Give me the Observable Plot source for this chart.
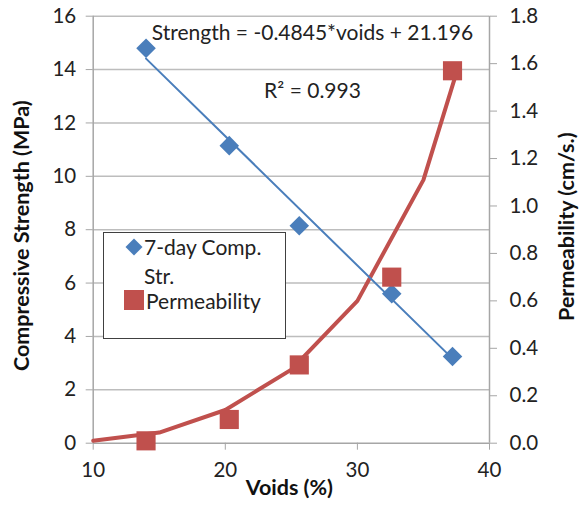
<!DOCTYPE html>
<html><head><meta charset="utf-8">
<script src="https://cdn.jsdelivr.net/npm/d3@7"></script>
<script src="https://cdn.jsdelivr.net/npm/@observablehq/plot@0.6"></script>
<style>
body{margin:0;background:#fff;font-family:Lato,"Open Sans",sans-serif;}
#wrap{position:relative;width:579px;height:515px;}
#legend{position:absolute;left:103px;top:232px;width:181px;height:105px;border:1.5px solid #404040;background:#fff;font-size:21px;color:#222;}
#legend span{position:absolute;line-height:22px;white-space:nowrap;}
#legend svg{position:absolute;}
</style></head><body>
<div id="wrap"></div>
<script>
// data
const voids = [14.0, 20.3, 25.6, 32.6, 37.2];
const strength = [14.8, 11.15, 8.15, 5.6, 3.25];
const permeability = [0.01, 0.1, 0.33, 0.70, 1.57];
const trendVoids = [14.0, 37.2];
const trendStrength = [14.41, 3.17];
const curveVoids = [10, 15, 20, 25, 30, 35, 37.6];
const curvePerm = [0.01, 0.045, 0.14, 0.31, 0.60, 1.11, 1.58];
const leftTicks = [0,2,4,6,8,10,12,14,16];
const rightTicks = [0,0.2,0.4,0.6,0.8,1.0,1.2,1.4,1.6,1.8];
const xTicks = [10,20,30,40];
const seriesNames = ["7-day Comp. Str.", "Permeability"];
const eqText = "Strength = -0.4845*voids + 21.196";
const r2Text = "R² = 0.993";

const permMax = 1.8, strMax = 16;
const toY = p => p * strMax / permMax;
const blue = "#4a7ebb", red = "#c0504d";

const pts = voids.map((v,i)=>({v, s: strength[i], p: permeability[i]}));
const trend = trendVoids.map((v,i)=>({v, s: trendStrength[i]}));
const curve = curveVoids.map((v,i)=>({v, p: curvePerm[i]}));

const chart = Plot.plot({
  width: 579, height: 515,
  marginLeft: 92.7, marginRight: 90, marginTop: 15.7, marginBottom: 72.3,
  style: {fontFamily: "Lato, 'Open Sans', sans-serif", fontSize: "20px", color: "#222", background: "#fff"},
  x: {domain: [10, 40]},
  y: {domain: [0, 16]},
  marks: [
    Plot.ruleY(leftTicks.slice(1), {stroke: "#bdbdbd", strokeWidth: 1.5}),
    Plot.ruleX([10], {stroke: "#a6a6a6", strokeWidth: 1.5}),
    Plot.ruleX([40], {stroke: "#a6a6a6", strokeWidth: 1.5}),
    Plot.ruleY([0], {stroke: "#a6a6a6", strokeWidth: 1.5}),
    Plot.axisY(leftTicks, {anchor: "left", tickSize: 7, tickPadding: 10, stroke: "#a6a6a6", fill: "#222", fontSize: 20.5, label: null}),
    Plot.axisY(rightTicks.map(toY), {anchor: "right", tickSize: 7, tickPadding: 13, stroke: "#a6a6a6", fill: "#222", fontSize: 20.5, label: null, tickFormat: v => (v*permMax/strMax).toFixed(1)}),
    Plot.axisX(xTicks, {anchor: "bottom", tickSize: 7, tickPadding: 12, stroke: "#a6a6a6", fill: "#222", fontSize: 20.5, label: null}),
    Plot.line(curve, {x: "v", y: d => toY(d.p), stroke: red, strokeWidth: 4, strokeLinejoin: "round"}),
    Plot.line(trend, {x: "v", y: "s", stroke: blue, strokeWidth: 2}),
    Plot.dot(pts, {x: "v", y: "s", symbol: "square", r: 7.8, rotate: 45, fill: blue, stroke: null}),
    Plot.dot(pts, {x: "v", y: d => toY(d.p), symbol: "square", r: 10.8, fill: red, stroke: null}),
    Plot.text([eqText], {x: 26.6, y: 15.35, text: d => d, fontSize: 21, fill: "#222"}),
    Plot.text([r2Text], {x: 26.6, y: 13.2, text: d => d, fontSize: 21, fill: "#222"}),
    Plot.text(["Compressive Strength (MPa)"], {frameAnchor: "left", dx: -71, dy: 6, textAnchor: "middle", text: d => d, rotate: -90, fontWeight: "bold", fontSize: 21.5, fill: "#111"}),
    Plot.text(["Permeability (cm/s.)"], {frameAnchor: "right", dx: 78, dy: -3, textAnchor: "middle", text: d => d, rotate: -90, fontWeight: "bold", fontSize: 21.5, fill: "#111"}),
    Plot.text(["Voids (%)"], {frameAnchor: "bottom", dx: -2, dy: 52, text: d => d, fontWeight: "bold", fontSize: 21.5, fill: "#111"})
  ]
});
const wrap = document.getElementById("wrap");
wrap.appendChild(chart);

const words = seriesNames[0].split(" ");
const lg = document.createElement("div");
lg.id = "legend";
lg.innerHTML = `
<svg width="20" height="20" style="left:20px;top:4px"><rect x="4" y="4" width="12" height="12" fill="${blue}" transform="rotate(45 10 10)"/></svg>
<span style="left:40px;top:3px">${words.slice(0,2).join(" ")}</span>
<span style="left:40px;top:32px">${words.slice(2).join(" ")}</span>
<svg width="22" height="22" style="left:19px;top:56px"><rect x="1" y="1" width="20" height="20" fill="${red}"/></svg>
<span style="left:42px;top:57px">${seriesNames[1]}</span>`;
wrap.appendChild(lg);
</script>
</body></html>
